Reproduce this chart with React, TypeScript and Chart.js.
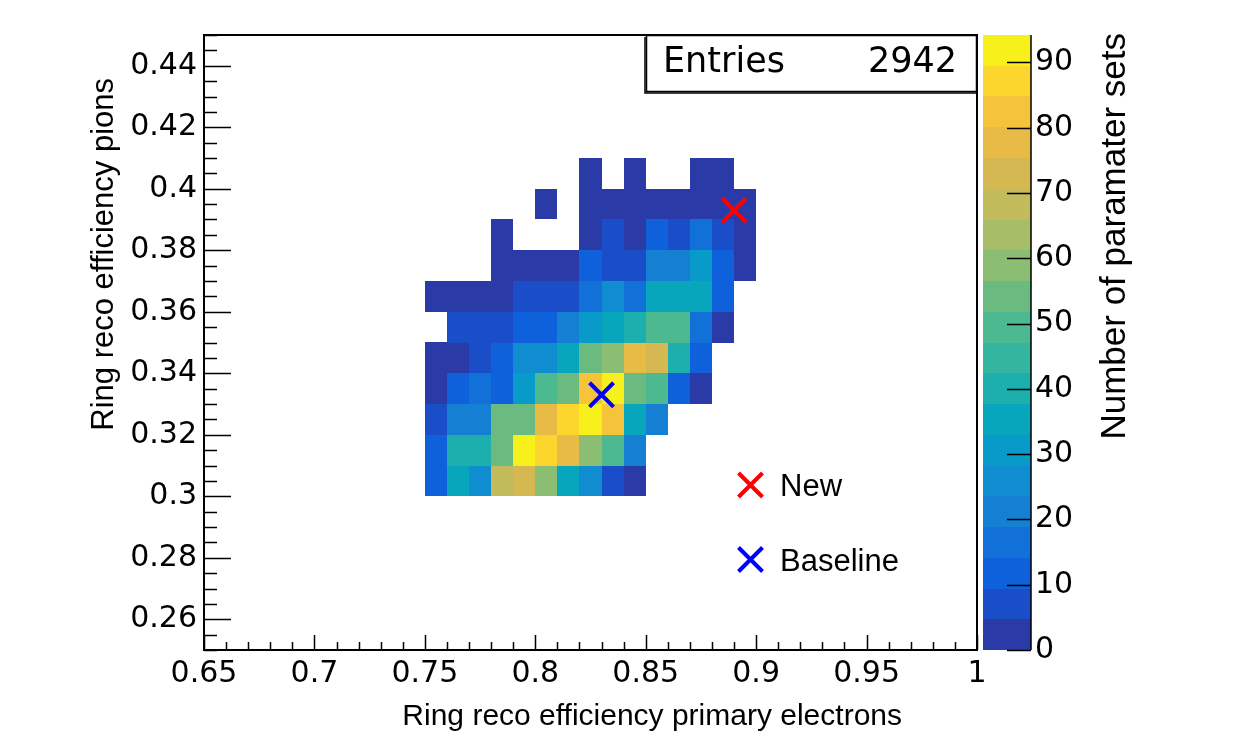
import React, { useEffect, useRef } from "react";
import { Chart, registerables } from "chart.js";

Chart.register(...registerables);

// ---- data ----
const xBinLow = [0.75, 0.76, 0.77, 0.78, 0.79, 0.8, 0.81, 0.82, 0.83, 0.84, 0.85, 0.86, 0.87, 0.88, 0.89];
const yBinLow = [0.3, 0.31, 0.32, 0.33, 0.34, 0.35, 0.36, 0.37, 0.38, 0.39, 0.4];
const binW = 0.01;
const binH = 0.01;

// counts per y-row (bottom to top), one value per x bin; 0 = empty bin
const row030 = [12, 35, 26, 68, 73, 59, 35, 26, 7, 2, 0, 0, 0, 0, 0];
const row031 = [12, 40, 40, 54, 92, 87, 77, 59, 49, 21, 0, 0, 0, 0, 0];
const row032 = [7, 21, 21, 54, 54, 77, 87, 93, 82, 35, 21, 0, 0, 0, 0];
const row033 = [3, 12, 16, 12, 30, 49, 54, 82, 91, 54, 49, 12, 2, 0, 0];
const row034 = [2, 3, 7, 12, 26, 26, 35, 54, 59, 77, 73, 40, 12, 0, 0];
const row035 = [0, 7, 7, 7, 12, 12, 21, 30, 35, 40, 49, 49, 16, 2, 0];
const row036 = [2, 2, 2, 3, 7, 7, 7, 16, 26, 16, 35, 35, 35, 12, 0];
const row037 = [0, 0, 0, 2, 3, 2, 2, 12, 7, 7, 21, 21, 30, 12, 2];
const row038 = [0, 0, 0, 2, 0, 0, 0, 3, 7, 2, 12, 7, 16, 7, 1];
const row039 = [0, 0, 0, 0, 0, 1, 0, 2, 2, 3, 2, 3, 2, 3, 1];
const row040 = [0, 0, 0, 0, 0, 0, 0, 1, 0, 1, 0, 0, 1, 1, 0];
const counts = [row030, row031, row032, row033, row034, row035, row036, row037, row038, row039, row040];

const newPoint = [{ x: 0.89, y: 0.393 }];
const baselinePoint = [{ x: 0.83, y: 0.333 }];
const entries = 2942;

const xTickValues = [0.65, 0.7, 0.75, 0.8, 0.85, 0.9, 0.95, 1.0];
const yTickValues = [0.26, 0.28, 0.3, 0.32, 0.34, 0.36, 0.38, 0.4, 0.42, 0.44];
const zTickValues = [0, 10, 20, 30, 40, 50, 60, 70, 80, 90];

const xMin = 0.65, xMax = 1.0;
const yMin = 0.25, yMax = 0.45;
const zMin = 0, zMax = 94.2;
const nLevels = 20;

const palette = [
  "#2a3ba8", "#1a4dc8", "#0e60db", "#1271d8", "#1580d3",
  "#0f8dd0", "#089ac9", "#08a6bd", "#1daeae", "#33b5a0",
  "#4db990", "#6bbb80", "#8bbd72", "#a7bd67", "#c2bb5c",
  "#d6b853", "#e8bb47", "#f5c43a", "#fcd52d", "#f8f01a",
];

const NUM_FONT = '"DejaVu Sans", sans-serif';
const TXT_FONT = '"Liberation Sans", Arial, sans-serif';

function colorFor(v: number) {
  let k = Math.floor(((v - zMin) / (zMax - zMin)) * nLevels);
  if (k < 0) k = 0;
  if (k >= nLevels) k = nLevels - 1;
  return palette[k];
}

function fmt(v: number) {
  return String(Number(Number(v).toFixed(3)));
}

const rootPlugin = {
  id: "rootStyle",
  beforeDraw(chart: any) {
    const { ctx, width, height } = chart;
    ctx.save();
    ctx.fillStyle = "#ffffff";
    ctx.fillRect(0, 0, width, height);
    ctx.restore();
  },
  beforeDatasetsDraw(chart: any) {
    const { ctx, chartArea } = chart;
    const xs = chart.scales.x, ys = chart.scales.y, zs = chart.scales.z;
    ctx.save();
    ctx.beginPath();
    ctx.rect(chartArea.left, chartArea.top, chartArea.right - chartArea.left, chartArea.bottom - chartArea.top);
    ctx.clip();
    counts.forEach((row, j) => {
      row.forEach((v, i) => {
        if (v <= 0) return;
        const x0 = Math.round(xs.getPixelForValue(xBinLow[i]));
        const x1 = Math.round(xs.getPixelForValue(xBinLow[i] + binW));
        const y0 = Math.round(ys.getPixelForValue(yBinLow[j]));
        const y1 = Math.round(ys.getPixelForValue(yBinLow[j] + binH));
        ctx.fillStyle = colorFor(v);
        ctx.fillRect(x0, y1, x1 - x0, y0 - y1);
      });
    });
    ctx.restore();

    // colour bar
    const cbL = chartArea.right + 6;
    const cbR = chartArea.right + 54;
    ctx.save();
    for (let k = 0; k < nLevels; k++) {
      const lo = zMin + (k * (zMax - zMin)) / nLevels;
      const hi = zMin + ((k + 1) * (zMax - zMin)) / nLevels;
      const yb = Math.round(zs.getPixelForValue(lo));
      const yt = Math.round(zs.getPixelForValue(hi));
      ctx.fillStyle = palette[k];
      ctx.fillRect(cbL, yt, cbR - cbL, yb - yt);
    }
    ctx.restore();
  },
  afterDatasetsDraw(chart: any) {
    const { ctx, chartArea } = chart;
    const xs = chart.scales.x, ys = chart.scales.y, zs = chart.scales.z;
    const { left, right, top, bottom } = chartArea;
    ctx.save();
    ctx.strokeStyle = "#000";
    ctx.fillStyle = "#000";

    // frame
    ctx.lineWidth = 2;
    ctx.strokeRect(left, top, right - left, bottom - top);

    // x ticks
    ctx.lineWidth = 1.5;
    ctx.beginPath();
    for (let k = 0; k <= 35; k++) {
      const v = xMin + k * 0.01;
      const px = Math.round(xs.getPixelForValue(v)) + 0.5;
      const len = k % 5 === 0 ? 15 : 8;
      ctx.moveTo(px, bottom);
      ctx.lineTo(px, bottom - len);
    }
    // y ticks
    for (let k = 0; k <= 40; k++) {
      const v = yMin + k * 0.005;
      const py = Math.round(ys.getPixelForValue(v)) + 0.5;
      const len = (k - 2) % 4 === 0 ? 27 : 13;
      ctx.moveTo(left, py);
      ctx.lineTo(left + len, py);
    }
    ctx.stroke();

    // colour bar axis
    const cbR = right + 54;
    ctx.beginPath();
    ctx.moveTo(cbR, top);
    ctx.lineTo(cbR, bottom);
    zTickValues.forEach((v) => {
      const py = Math.round(zs.getPixelForValue(v)) + 0.5;
      ctx.moveTo(cbR, py);
      ctx.lineTo(cbR - 24, py);
    });
    ctx.stroke();

    // stats box
    const bx0 = 646, by0 = top, bx1 = right, by1 = 91;
    ctx.fillStyle = "#fff";
    ctx.fillRect(bx0, by0, bx1 - bx0, by1 - by0);
    ctx.lineWidth = 1.5;
    ctx.strokeRect(bx0 + 0.5, by0 + 0.5, bx1 - bx0 - 1, by1 - by0);
    ctx.beginPath();
    ctx.moveTo(bx0 - 1, by0 + 2);
    ctx.lineTo(bx0 - 1, by1 + 2);
    ctx.lineTo(bx1, by1 + 2);
    ctx.stroke();
    ctx.fillStyle = "#000";
    ctx.font = `35px ${NUM_FONT}`;
    ctx.textBaseline = "alphabetic";
    ctx.textAlign = "left";
    ctx.fillText("Entries", 663, 72);
    ctx.textAlign = "right";
    ctx.fillText(String(entries), 957, 72);

    // legend
    const drawX = (cx: number, cy: number, color: string) => {
      ctx.strokeStyle = color;
      ctx.lineWidth = 4;
      ctx.beginPath();
      ctx.moveTo(cx - 12, cy - 12);
      ctx.lineTo(cx + 12, cy + 12);
      ctx.moveTo(cx + 12, cy - 12);
      ctx.lineTo(cx - 12, cy + 12);
      ctx.stroke();
    };
    drawX(750.5, 485, "#ff0000");
    drawX(750.5, 559.5, "#0000ff");
    ctx.fillStyle = "#000";
    ctx.font = `31px ${TXT_FONT}`;
    ctx.textAlign = "left";
    ctx.fillText("New", 780, 496);
    ctx.fillText("Baseline", 780, 571);

    // axis titles
    ctx.font = `30px ${TXT_FONT}`;
    ctx.textAlign = "right";
    ctx.fillText("Ring reco efficiency primary electrons", 902, 725);

    ctx.save();
    ctx.translate(113, 78);
    ctx.rotate(-Math.PI / 2);
    ctx.font = `31px ${TXT_FONT}`;
    ctx.textAlign = "right";
    ctx.fillText("Ring reco efficiency pions", 0, 0);
    ctx.restore();

    ctx.save();
    ctx.translate(1125, 33);
    ctx.rotate(-Math.PI / 2);
    ctx.font = `35px ${TXT_FONT}`;
    ctx.textAlign = "right";
    ctx.fillText("Number of paramater sets", 0, 0);
    ctx.restore();

    ctx.restore();
  },
};

const fixV = (w: number) => (s: any) => {
  s.width = w;
  s.paddingTop = 0;
  s.paddingBottom = 0;
};

export default function App() {
  const canvasRef = useRef<HTMLCanvasElement | null>(null);

  useEffect(() => {
    if (!canvasRef.current) return;
    const tickFont = { family: NUM_FONT, size: 30 };
    const chart = new Chart(canvasRef.current, {
      type: "scatter",
      data: {
        datasets: [
          {
            label: "hist",
            data: counts.flatMap((row, j) =>
              row.map((v, i) => ({ x: xBinLow[i] + binW / 2, y: yBinLow[j] + binH / 2, v }))
            ) as any,
            pointRadius: 0,
            pointHoverRadius: 0,
          },
          {
            label: "New",
            data: newPoint,
            pointStyle: "crossRot",
            pointRadius: 17,
            pointHoverRadius: 17,
            borderColor: "#ff0000",
            backgroundColor: "#ff0000",
            borderWidth: 4,
          },
          {
            label: "Baseline",
            data: baselinePoint,
            pointStyle: "crossRot",
            pointRadius: 17,
            pointHoverRadius: 17,
            borderColor: "#0000ff",
            backgroundColor: "#0000ff",
            borderWidth: 4,
          },
        ],
      },
      options: {
        responsive: false,
        animation: false,
        events: [],
        layout: { padding: { top: 35, left: 0, right: 0, bottom: 0 } },
        plugins: { legend: { display: false }, tooltip: { enabled: false } },
        scales: {
          x: {
            type: "linear",
            position: "bottom",
            min: xMin,
            max: xMax,
            grid: { display: false, drawTicks: false },
            border: { display: false },
            afterBuildTicks: (s: any) => { s.ticks = xTickValues.map((value) => ({ value })); },
            afterFit: (s: any) => { s.height = 87; s.paddingLeft = 0; s.paddingRight = 0; },
            ticks: { font: tickFont, color: "#000", padding: 6, maxRotation: 0, autoSkip: false, callback: (v: any) => fmt(v) },
          },
          y: {
            type: "linear",
            position: "left",
            min: yMin,
            max: yMax,
            grid: { display: false, drawTicks: false },
            border: { display: false },
            afterBuildTicks: (s: any) => { s.ticks = yTickValues.map((value) => ({ value })); },
            afterFit: fixV(204),
            ticks: { font: tickFont, color: "#000", padding: 7, autoSkip: false, callback: (v: any) => fmt(v) },
          },
          z: {
            type: "linear",
            position: "right",
            min: zMin,
            max: zMax,
            grid: { display: false, drawTicks: false },
            border: { display: false },
            afterBuildTicks: (s: any) => { s.ticks = zTickValues.map((value) => ({ value })); },
            afterFit: fixV(262),
            ticks: { font: tickFont, color: "#000", padding: 58, autoSkip: false, callback: (v: any) => String(v) },
          },
        },
      },
      plugins: [rootPlugin],
    } as any);
    return () => chart.destroy();
  }, []);

  return (
    <div style={{ position: "absolute", left: 0, top: 0, width: 1239, height: 737, background: "#fff" }}>
      <canvas ref={canvasRef} width={1239} height={737} style={{ display: "block" }} />
    </div>
  );
}
